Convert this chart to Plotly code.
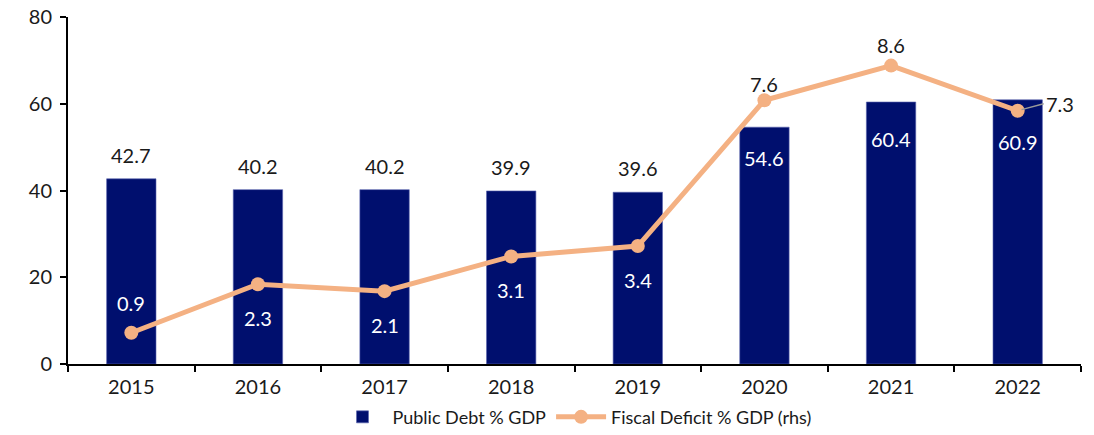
import plotly.graph_objects as go

years = ["2015", "2016", "2017", "2018", "2019", "2020", "2021", "2022"]
public_debt = [42.7, 40.2, 40.2, 39.9, 39.6, 54.6, 60.4, 60.9]
fiscal_deficit = [0.9, 2.3, 2.1, 3.1, 3.4, 7.6, 8.6, 7.3]

NAVY = "#000F6E"
PEACH = "#F4B183"
FONT = "Lato"
LABEL_SIZE = 20

fig = go.Figure()

fig.add_trace(go.Bar(
    x=years, y=public_debt, name="Public Debt % GDP",
    marker=dict(color=NAVY, line=dict(color="#5A64B0", width=0.6)),
    width=0.39, yaxis="y",
))

fig.add_trace(go.Scatter(
    x=years, y=fiscal_deficit, name="Fiscal Deficit % GDP (rhs)",
    mode="lines+markers",
    line=dict(color=PEACH, width=5),
    marker=dict(color=PEACH, size=14),
    yaxis="y2",
))

annotations = []

# Debt labels: above the bar for the lower years, inside the top for the rest
# (annotation x uses the category index so year strings are not read as numbers)
inside_shift = {"2020": -31, "2021": -37, "2022": -42}
for i, (yr, v) in enumerate(zip(years, public_debt)):
    if yr in inside_shift:
        annotations.append(dict(x=i, y=v, xref="x", yref="y", text=f"{v:.1f}",
                                showarrow=False, yshift=inside_shift[yr],
                                font=dict(family=FONT, size=LABEL_SIZE, color="white")))
    else:
        annotations.append(dict(x=i, y=v, xref="x", yref="y", text=f"{v:.1f}",
                                showarrow=False, yshift=24,
                                font=dict(family=FONT, size=LABEL_SIZE, color="#1a1a1a")))

# Deficit labels
for i, (yr, v) in enumerate(zip(years, fiscal_deficit)):
    if yr == "2015":
        annotations.append(dict(x=i, y=v, xref="x", yref="y2", text=f"{v:.1f}",
                                showarrow=False, yshift=30,
                                font=dict(family=FONT, size=LABEL_SIZE, color="white")))
    elif yr in ("2016", "2017", "2018", "2019"):
        annotations.append(dict(x=i, y=v, xref="x", yref="y2", text=f"{v:.1f}",
                                showarrow=False, yshift=-34,
                                font=dict(family=FONT, size=LABEL_SIZE, color="white")))
    elif yr == "2022":
        annotations.append(dict(x=i, y=v, xref="x", yref="y2", text=f"{v:.1f}",
                                showarrow=True, arrowhead=0, arrowwidth=1.5,
                                arrowcolor="#9A9A9A", ax=26, ay=-7, standoff=4,
                                xanchor="left",
                                font=dict(family=FONT, size=LABEL_SIZE, color="#1a1a1a")))
    else:
        annotations.append(dict(x=i, y=v, xref="x", yref="y2", text=f"{v:.1f}",
                                showarrow=False, yshift=16 if yr == "2020" else 21,
                                font=dict(family=FONT, size=LABEL_SIZE, color="#1a1a1a")))

fig.update_layout(
    width=1094, height=435,
    margin=dict(l=68, r=13, t=17, b=71),
    plot_bgcolor="white", paper_bgcolor="white",
    font=dict(family=FONT, size=18, color="#1a1a1a"),
    showlegend=True,
    legend=dict(orientation="h", x=0.5, xanchor="center",
                y=0.041, yanchor="middle", yref="container",
                font=dict(family=FONT, size=18, color="#1a1a1a"),
                itemwidth=50, tracegroupgap=0),
    xaxis=dict(
        type="category", range=[-0.5, 7.5], automargin=False,
        showline=True, linecolor="black", linewidth=2,
        ticks="outside", tickson="boundaries", ticklen=6, tickcolor="black",
        tickwidth=1.5, showgrid=False, tickfont=dict(size=20), tickangle=0,
        ticklabelstandoff=4,
    ),
    yaxis=dict(
        range=[0, 80], dtick=20, automargin=False,
        showline=True, linecolor="black", linewidth=2,
        ticks="outside", ticklen=6, tickcolor="black", tickwidth=1.5,
        showgrid=False, zeroline=False, tickfont=dict(size=20),
        ticklabelstandoff=4,
    ),
    yaxis2=dict(
        range=[0, 10], overlaying="y", side="right", visible=False,
        showgrid=False, zeroline=False,
    ),
    annotations=annotations,
    bargap=0.61,
)

fig.write_html("out.html")
